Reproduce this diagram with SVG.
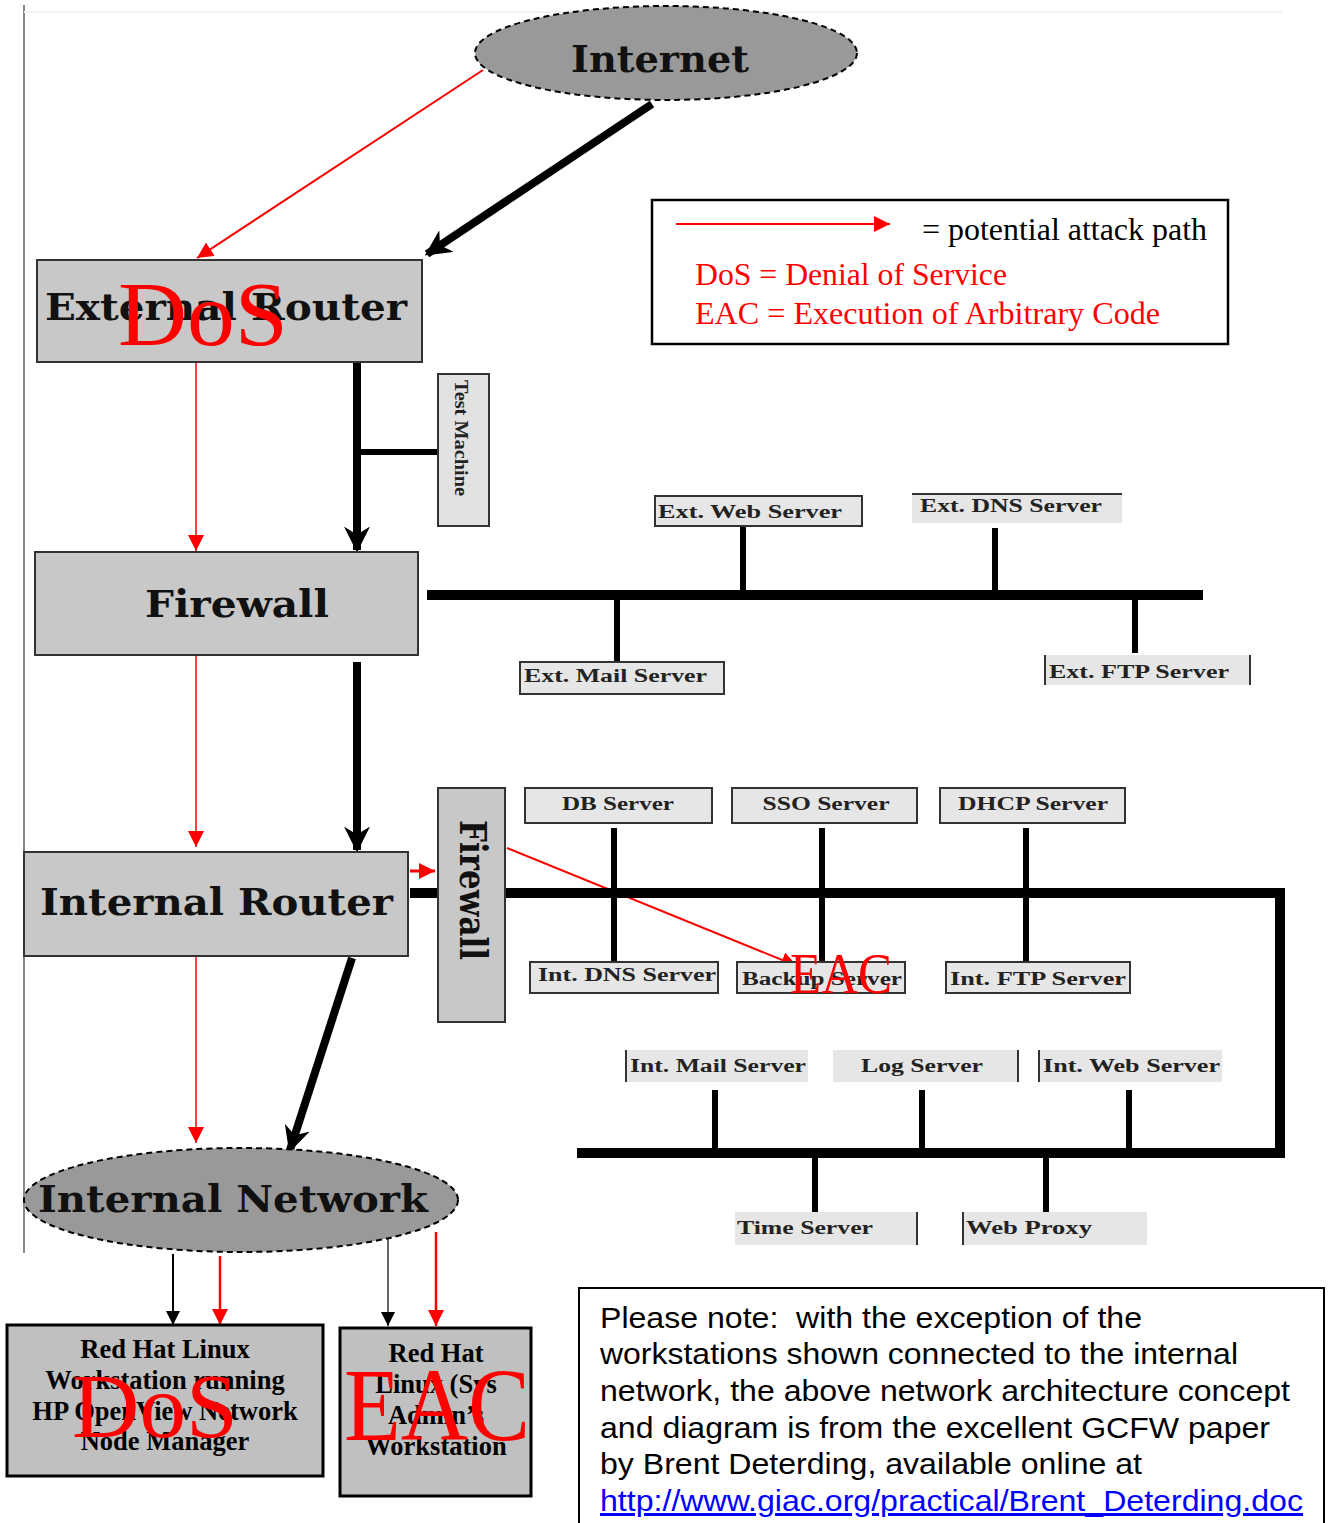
<svg xmlns="http://www.w3.org/2000/svg" width="1329" height="1523" viewBox="0 0 1329 1523">
<defs>
<style>
.node{fill:#c8c8c8;stroke:#333;stroke-width:2}
.big{font-family:"DejaVu Serif","Liberation Serif",serif;font-weight:bold;font-size:38px;fill:#111}
.srv{font-family:"Liberation Serif",serif;font-weight:bold;font-size:18px;fill:#222}
.srvbox{fill:#e6e6e6}
.bus{stroke:#000;stroke-width:10;fill:none}
.drop{stroke:#000;stroke-width:6;fill:none}
.red{stroke:#f00;stroke-width:2;fill:none}
.redtxt{font-family:"Liberation Serif",serif;fill:#f00}
.ws{font-family:"Liberation Serif",serif;font-weight:bold;font-size:26.5px;fill:#000;text-anchor:middle}
.note{font-family:"Liberation Sans",Arial,sans-serif;font-size:30px;fill:#000;white-space:pre}
</style>
<marker id="ba" viewBox="0 0 10 10" refX="9" refY="5" markerWidth="26" markerHeight="26" orient="auto" markerUnits="userSpaceOnUse">
<path d="M0,0 L10,5 L0,10 L3,5 z" fill="#000"/>
</marker>
<marker id="ta" viewBox="0 0 10 10" refX="10" refY="5" markerWidth="14" markerHeight="14" orient="auto" markerUnits="userSpaceOnUse">
<path d="M0,0 L10,5 L0,10 z" fill="#000"/>
</marker>
<marker id="rb" viewBox="0 0 10 10" refX="10" refY="5" markerWidth="16" markerHeight="16" orient="auto" markerUnits="userSpaceOnUse">
<path d="M0,0 L10,5 L0,10 z" fill="#f00"/>
</marker>
</defs>
<rect width="1329" height="1523" fill="#fff"/>
<line x1="24" y1="5" x2="24" y2="1253" stroke="#888" stroke-width="2"/>
<line x1="24" y1="12" x2="1282" y2="12" stroke="#f2f2f2" stroke-width="2"/>

<g id="connectors">
<line x1="652" y1="104" x2="427" y2="254" stroke="#000" stroke-width="8" marker-end="url(#ba)"/>
<line x1="483" y1="70" x2="197" y2="258" class="red" marker-end="url(#rb)"/>
<line x1="357" y1="362" x2="357" y2="550" stroke="#000" stroke-width="8" marker-end="url(#ba)"/>
<line x1="357" y1="452" x2="438" y2="452" stroke="#000" stroke-width="6"/>
<line x1="196" y1="362" x2="196" y2="551" stroke="#f00" stroke-width="1.5" marker-end="url(#rb)"/>
<line x1="357" y1="662" x2="357" y2="850" stroke="#000" stroke-width="8" marker-end="url(#ba)"/>
<line x1="196" y1="656" x2="196" y2="847" stroke="#f00" stroke-width="1.5" marker-end="url(#rb)"/>
<line x1="352" y1="958" x2="290" y2="1150" stroke="#000" stroke-width="8" marker-end="url(#ba)"/>
<line x1="196" y1="950" x2="196" y2="1143" stroke="#f00" stroke-width="1.5" marker-end="url(#rb)"/>
<line x1="410" y1="871" x2="435" y2="871" stroke="#f00" stroke-width="3" marker-end="url(#rb)"/>
<line x1="410" y1="893" x2="440" y2="893" class="bus"/>
<line x1="507" y1="848" x2="797" y2="966" class="red" marker-end="url(#rb)"/>
<!-- external bus -->
<line x1="427" y1="595" x2="1203" y2="595" class="bus"/>
<line x1="743" y1="526" x2="743" y2="595" class="drop"/>
<line x1="995" y1="528" x2="995" y2="595" class="drop"/>
<line x1="617" y1="595" x2="617" y2="661" class="drop"/>
<line x1="1135" y1="595" x2="1135" y2="653" class="drop"/>
<!-- internal bus -->
<polyline points="505,893 1280,893 1280,1153 577,1153" class="bus"/>
<line x1="614" y1="828" x2="614" y2="962" class="drop"/>
<line x1="822" y1="828" x2="822" y2="962" class="drop"/>
<line x1="1026" y1="828" x2="1026" y2="962" class="drop"/>
<line x1="715" y1="1090" x2="715" y2="1153" class="drop"/>
<line x1="922" y1="1090" x2="922" y2="1153" class="drop"/>
<line x1="1129" y1="1090" x2="1129" y2="1153" class="drop"/>
<line x1="815" y1="1153" x2="815" y2="1212" class="drop"/>
<line x1="1046" y1="1153" x2="1046" y2="1212" class="drop"/>
<!-- workstations -->
<line x1="173" y1="1254" x2="173" y2="1325" stroke="#000" stroke-width="2" marker-end="url(#ta)"/>
<line x1="220" y1="1256" x2="220" y2="1325" stroke="#f00" stroke-width="2.5" marker-end="url(#rb)"/>
<line x1="388" y1="1232" x2="388" y2="1326" stroke="#333" stroke-width="1.5" marker-end="url(#ta)"/>
<line x1="436" y1="1232" x2="436" y2="1326" stroke="#f00" stroke-width="2.5" marker-end="url(#rb)"/>
</g>

<g id="internet">
<ellipse cx="666" cy="53" rx="191" ry="47" fill="#999" stroke="#000" stroke-width="2" stroke-dasharray="6,4"/>
<text x="660" y="72" class="big" text-anchor="middle" textLength="178" lengthAdjust="spacingAndGlyphs">Internet</text>
</g>

<g id="external-router">
<rect x="37" y="260" width="385" height="102" class="node"/>
<text x="45" y="320" class="big" textLength="362" lengthAdjust="spacingAndGlyphs">External Router</text>
<text x="118" y="345" class="redtxt" font-size="92" textLength="170" lengthAdjust="spacingAndGlyphs">DoS</text>
</g>

<g id="test-machine">
<rect x="438" y="374" width="51" height="152" fill="#e2e2e2" stroke="#333" stroke-width="2"/>
<text transform="translate(455,380) rotate(90)" class="srv" font-size="20" textLength="116" lengthAdjust="spacingAndGlyphs">Test Machine</text>
</g>

<g id="firewall">
<rect x="35" y="552" width="383" height="103" class="node"/>
<text x="237" y="617" class="big" text-anchor="middle" textLength="184" lengthAdjust="spacingAndGlyphs">Firewall</text>
</g>

<g id="ext-web"><rect x="655" y="496" width="207" height="30" class="srvbox" stroke="#333" stroke-width="2"/><text x="658" y="518" class="srv" textLength="184" lengthAdjust="spacingAndGlyphs">Ext. Web Server</text></g>
<g id="ext-dns"><rect x="912" y="494" width="210" height="29" class="srvbox"/><line x1="912" y1="494" x2="1122" y2="494" stroke="#333" stroke-width="2"/><text x="920" y="512" class="srv" textLength="182" lengthAdjust="spacingAndGlyphs">Ext. DNS Server</text></g>
<g id="ext-mail"><rect x="520" y="662" width="204" height="32" class="srvbox" stroke="#333" stroke-width="2"/><text x="524" y="682" class="srv" textLength="183" lengthAdjust="spacingAndGlyphs">Ext. Mail Server</text></g>
<g id="ext-ftp"><rect x="1045" y="655" width="205" height="30" class="srvbox"/><line x1="1045" y1="655" x2="1045" y2="685" stroke="#333" stroke-width="2"/><line x1="1250" y1="655" x2="1250" y2="685" stroke="#333" stroke-width="2"/><text x="1049" y="678" class="srv" textLength="180" lengthAdjust="spacingAndGlyphs">Ext. FTP Server</text></g>

<g id="internal-router">
<rect x="24" y="852" width="384" height="104" class="node"/>
<text x="40" y="915" class="big" textLength="353" lengthAdjust="spacingAndGlyphs">Internal Router</text>
</g>

<g id="firewall-2">
<rect x="438" y="788" width="67" height="234" class="node"/>
<text transform="translate(460,820) rotate(90)" class="big" font-size="36" textLength="140" lengthAdjust="spacingAndGlyphs">Firewall</text>
</g>

<g id="db-server"><rect x="525" y="788" width="187" height="35" class="srvbox" stroke="#333" stroke-width="2"/><text x="618" y="810" class="srv" text-anchor="middle" textLength="112" lengthAdjust="spacingAndGlyphs">DB Server</text></g>
<g id="sso-server"><rect x="732" y="788" width="185" height="35" class="srvbox" stroke="#333" stroke-width="2"/><text x="826" y="810" class="srv" text-anchor="middle" textLength="127" lengthAdjust="spacingAndGlyphs">SSO Server</text></g>
<g id="dhcp-server"><rect x="940" y="788" width="185" height="35" class="srvbox" stroke="#333" stroke-width="2"/><text x="1033" y="810" class="srv" text-anchor="middle" textLength="150" lengthAdjust="spacingAndGlyphs">DHCP Server</text></g>
<g id="int-dns"><rect x="530" y="962" width="188" height="31" class="srvbox" stroke="#333" stroke-width="2"/><text x="538" y="981" class="srv" textLength="178" lengthAdjust="spacingAndGlyphs">Int. DNS Server</text></g>
<g id="backup-server"><rect x="737" y="962" width="168" height="31" class="srvbox" stroke="#333" stroke-width="2"/><text x="742" y="985" class="srv" textLength="160" lengthAdjust="spacingAndGlyphs">Backup Server</text>
<text x="790" y="993" class="redtxt" font-size="56" textLength="102" lengthAdjust="spacingAndGlyphs">EAC</text></g>
<g id="int-ftp"><rect x="946" y="962" width="184" height="31" class="srvbox" stroke="#333" stroke-width="2"/><text x="950" y="985" class="srv" textLength="176" lengthAdjust="spacingAndGlyphs">Int. FTP Server</text></g>

<g id="int-mail"><rect x="625" y="1050" width="183" height="32" class="srvbox"/><line x1="626" y1="1050" x2="626" y2="1082" stroke="#333" stroke-width="2"/><text x="630" y="1072" class="srv" textLength="176" lengthAdjust="spacingAndGlyphs">Int. Mail Server</text></g>
<g id="log-server"><rect x="833" y="1050" width="185" height="32" class="srvbox"/><line x1="1018" y1="1050" x2="1018" y2="1082" stroke="#333" stroke-width="2"/><text x="922" y="1072" class="srv" text-anchor="middle" textLength="122" lengthAdjust="spacingAndGlyphs">Log Server</text></g>
<g id="int-web"><rect x="1038" y="1050" width="184" height="32" class="srvbox"/><line x1="1039" y1="1050" x2="1039" y2="1082" stroke="#333" stroke-width="2"/><text x="1043" y="1072" class="srv" textLength="177" lengthAdjust="spacingAndGlyphs">Int. Web Server</text></g>
<g id="time-server"><rect x="735" y="1212" width="182" height="33" class="srvbox"/><line x1="917" y1="1212" x2="917" y2="1245" stroke="#333" stroke-width="2"/><text x="737" y="1234" class="srv" textLength="136" lengthAdjust="spacingAndGlyphs">Time Server</text></g>
<g id="web-proxy"><rect x="962" y="1212" width="185" height="33" class="srvbox"/><line x1="963" y1="1212" x2="963" y2="1245" stroke="#333" stroke-width="2"/><text x="966" y="1234" class="srv" textLength="126" lengthAdjust="spacingAndGlyphs">Web Proxy</text></g>

<g id="internal-network">
<ellipse cx="241" cy="1200" rx="217" ry="52" fill="#999" stroke="#000" stroke-width="2" stroke-dasharray="6,4"/>
<text x="38" y="1212" class="big" textLength="390" lengthAdjust="spacingAndGlyphs">Internal Network</text>
</g>

<g id="ws-hp">
<rect x="7" y="1325" width="316" height="151" fill="#c0c0c0" stroke="#000" stroke-width="3"/>
<text x="165" y="1358" class="ws">Red Hat Linux</text>
<text x="165" y="1389" class="ws">Workstation running</text>
<text x="165" y="1420" class="ws">HP OpenView Network</text>
<text x="165" y="1450" class="ws">Node Manager</text>
<text x="72" y="1437" class="redtxt" font-size="92" textLength="166" lengthAdjust="spacingAndGlyphs">DoS</text>
</g>

<g id="ws-admin">
<rect x="340" y="1328" width="191" height="168" fill="#c0c0c0" stroke="#000" stroke-width="3"/>
<text x="436" y="1362" class="ws">Red Hat</text>
<text x="436" y="1393" class="ws">Linux (Sys</text>
<text x="436" y="1424" class="ws">Admin’s</text>
<text x="436" y="1455" class="ws">Workstation</text>
<text x="344" y="1440" class="redtxt" font-size="104" textLength="186" lengthAdjust="spacingAndGlyphs">EAC</text>
</g>

<g id="legend">
<rect x="652" y="200" width="576" height="144" fill="#fff" stroke="#000" stroke-width="2.5"/>
<line x1="676" y1="224" x2="890" y2="224" stroke="#f00" stroke-width="2" marker-end="url(#rb)"/>
<text x="922" y="240" font-family="Liberation Serif, serif" font-size="32" fill="#000" textLength="285" lengthAdjust="spacingAndGlyphs">= potential attack path</text>
<text x="695" y="285" class="redtxt" font-size="32" textLength="312" lengthAdjust="spacingAndGlyphs">DoS = Denial of Service</text>
<text x="695" y="324" class="redtxt" font-size="32" textLength="465" lengthAdjust="spacingAndGlyphs">EAC = Execution of Arbitrary Code</text>
</g>

<g id="note">
<rect x="579" y="1288" width="745" height="250" fill="#fff" stroke="#000" stroke-width="2"/>
<text x="600" y="1328" class="note" xml:space="preserve" textLength="542" lengthAdjust="spacingAndGlyphs">Please note:  with the exception of the</text>
<text x="600" y="1364" class="note" textLength="638" lengthAdjust="spacingAndGlyphs">workstations shown connected to the internal</text>
<text x="600" y="1401" class="note" textLength="690" lengthAdjust="spacingAndGlyphs">network, the above network architecture concept</text>
<text x="600" y="1438" class="note" textLength="670" lengthAdjust="spacingAndGlyphs">and diagram is from the excellent GCFW paper</text>
<text x="600" y="1474" class="note" textLength="542" lengthAdjust="spacingAndGlyphs">by Brent Deterding, available online at</text>
<text x="600" y="1511" class="note" style="fill:#00f" text-decoration="underline" textLength="703" lengthAdjust="spacingAndGlyphs">http://www.giac.org/practical/Brent_Deterding.doc</text>
</g>
</svg>
